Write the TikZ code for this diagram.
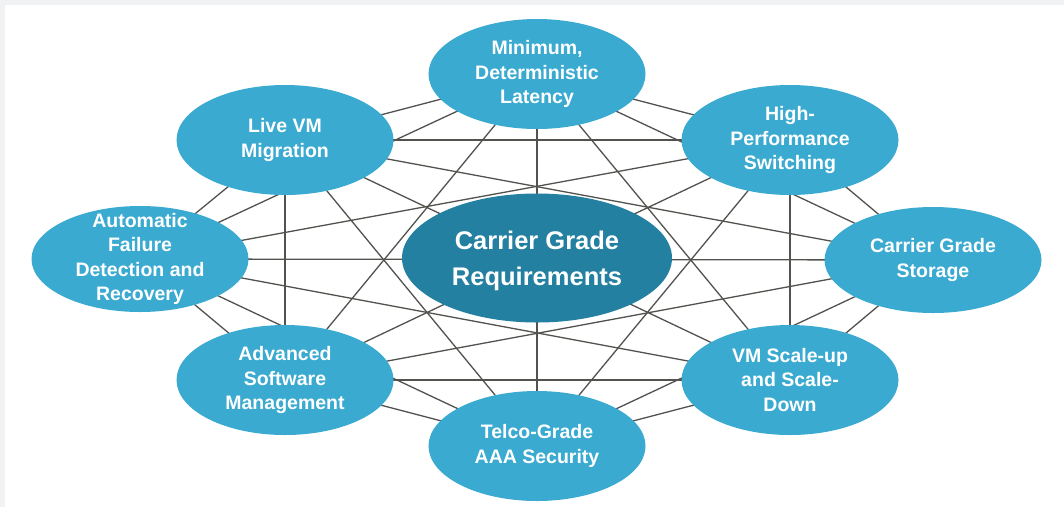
\documentclass[tikz,border=0pt]{standalone}
\usepackage{fontspec}
\setmainfont{Liberation Sans}
\usetikzlibrary{shapes.geometric,backgrounds}
\definecolor{outerblue}{RGB}{58,170,209}
\definecolor{centerblue}{RGB}{35,128,160}
\definecolor{linegray}{RGB}{82,82,78}
\definecolor{framegray}{RGB}{240,242,244}
\begin{document}
\begin{tikzpicture}[x=1pt,y=-1pt,
  req/.style={ellipse, fill=outerblue, minimum width=217pt, minimum height=110pt, inner sep=0pt},
  side/.style={req, minimum height=106pt},
  core/.style={ellipse, fill=centerblue, minimum width=270pt, minimum height=129pt, inner sep=0pt},
  txt/.style={text=white, font=\fontsize{19.5}{24.5}\selectfont\bfseries, align=center, inner sep=0pt},
  coretxt/.style={text=white, font=\fontsize{25.5}{36}\selectfont\bfseries, align=center, inner sep=0pt, yshift=-3pt},
  link/.style={draw=linegray, line width=1.3pt}]
\useasboundingbox (0,0) rectangle (1064,507);
\node[req, label={[txt]center:{Minimum,\\Deterministic\\Latency}}] (t) at (537,74) {};
\node[req, label={[txt]center:{High-\\Performance\\Switching}}] (hp) at (790,140) {};
\node[side, label={[txt]center:{Carrier Grade\\Storage}}] (cs) at (933,260) {};
\node[req, label={[txt]center:{VM Scale-up\\and Scale-\\Down}}] (vs) at (790,380) {};
\node[req, label={[txt]center:{Telco-Grade\\AAA Security}}] (tg) at (537,446) {};
\node[req, label={[txt]center:{Advanced\\Software\\Management}}] (as) at (285,380) {};
\node[side, label={[txt]center:{Automatic\\Failure\\Detection and\\Recovery}}] (af) at (140,259) {};
\node[req, label={[txt]center:{Live VM\\Migration}}] (lv) at (285,140) {};
\node[core, label={[coretxt]center:{Carrier Grade\\Requirements}}] (c) at (537,258) {};
\begin{scope}[on background layer]
  \fill[framegray] (0,0) rectangle (1064,507);
  \fill[white] (5,5) rectangle (1064,507);
  \foreach \a/\b in {t/hp,t/cs,t/vs,t/tg,t/as,t/af,t/lv,
                     hp/cs,hp/vs,hp/tg,hp/as,hp/af,hp/lv,
                     cs/vs,cs/tg,cs/as,cs/af,cs/lv,
                     vs/tg,vs/as,vs/af,vs/lv,
                     tg/as,tg/af,tg/lv,
                     as/af,as/lv,
                     af/lv}
    \draw[link] (\a.center) -- (\b.center);
\end{scope}
\end{tikzpicture}
\end{document}
